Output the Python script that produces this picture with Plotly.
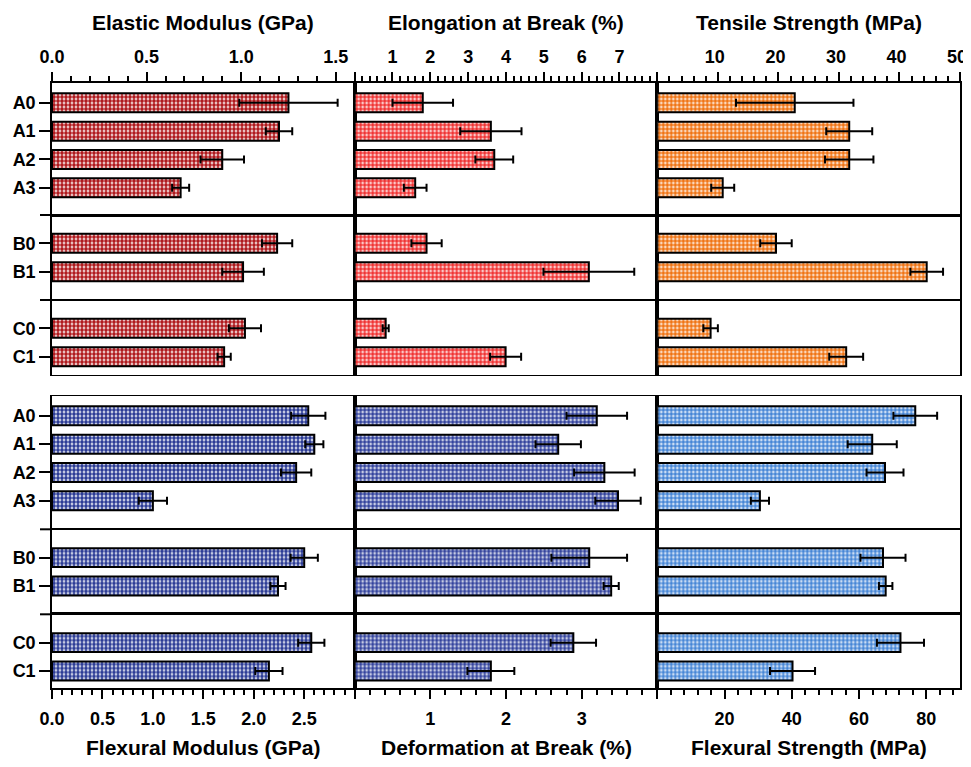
import plotly.graph_objects as go

# ---------------- data ----------------
categories = ["A0", "A1", "A2", "A3", "B0", "B1", "C0", "C1"]
group_sizes = [4, 2, 2]

elastic_modulus = [1.25, 1.20, 0.90, 0.68, 1.19, 1.01, 1.02, 0.91]
elastic_modulus_err = [0.26, 0.07, 0.115, 0.045, 0.08, 0.11, 0.085, 0.035]
elongation = [1.80, 3.60, 3.69, 1.60, 1.90, 6.19, 0.82, 3.99]
elongation_err = [0.80, 0.81, 0.50, 0.30, 0.40, 1.20, 0.08, 0.41]
tensile_strength = [22.7, 31.7, 31.7, 10.8, 19.6, 44.5, 8.8, 31.2]
tensile_strength_err = [9.7, 3.8, 4.0, 1.9, 2.6, 2.7, 1.2, 2.8]

flexural_modulus = [2.54, 2.60, 2.42, 1.00, 2.50, 2.24, 2.57, 2.15]
flexural_modulus_err = [0.17, 0.09, 0.15, 0.14, 0.135, 0.075, 0.13, 0.135]
deformation = [3.20, 2.69, 3.30, 3.48, 3.10, 3.39, 2.89, 1.80]
deformation_err = [0.40, 0.30, 0.40, 0.30, 0.50, 0.10, 0.30, 0.31]
flexural_strength = [76.7, 63.9, 67.7, 30.5, 67.1, 67.9, 72.3, 40.2]
flexural_strength_err = [6.5, 7.3, 5.5, 2.7, 6.7, 2.0, 7.0, 6.7]

top_titles = ["Elastic Modulus (GPa)", "Elongation at Break (%)", "Tensile Strength (MPa)"]
bottom_titles = ["Flexural Modulus (GPa)", "Deformation at Break (%)", "Flexural Strength (MPa)"]

top_tickvals = [[0, 0.5, 1.0, 1.5], [0, 1, 2, 3, 4, 5, 6, 7, 8], [0, 10, 20, 30, 40, 50]]
top_ticktext = [["0.0", "0.5", "1.0", "1.5"], ["", "1", "2", "3", "4", "5", "6", "7", ""],
                ["", "10", "20", "30", "40", "50"]]
bottom_tickvals = [[0, 0.5, 1.0, 1.5, 2.0, 2.5], [0, 1, 2, 3], [0, 20, 40, 60, 80]]
bottom_ticktext = [["0.0", "0.5", "1.0", "1.5", "2.0", "2.5"], ["", "1", "2", "3"],
                   ["", "20", "40", "60", "80"]]

# ---------------- styling ----------------
# the page body adds an 8 px margin; keep the figure small enough to avoid scrollbars
OFF = 8
REF_LEFT, REF_RIGHT, REF_TOP, REF_BOTTOM = 52, 960.5, 83, 688
W, H = 971 - OFF, 767 - 2 * OFF
ML = REF_LEFT - OFF
MR = W - (REF_RIGHT - OFF)
MT = REF_TOP - OFF
MB = H - (REF_BOTTOM - OFF)
PW = W - ML - MR
PH = H - MT - MB
UNIT_PX = 28.33  # pixels per category step

top_ranges = [[0, 1.6], [0, 8], [0, 50]]
bottom_ranges = [[0, 3], [0, 4], [0, 90]]
top_minor = [0.1, 0.2, 2]
bottom_minor = [0.1, 0.2, 4]
top_label_shift = [0, 0, -3]

top_colors = ["#b01a1e", "#f03434", "#f07414"]
bottom_colors = ["#2c3c96", "#34449e", "#4686d6"]

# section boundaries in reference pixels (top of frame, separators, bottom)
section_px = [[83, 215, 300, 374.5], [396, 529.3, 614.3, 688]]
first_offset = [0.7, 1.0, 1.0]

FONT = "Liberation Sans, Arial, Helvetica, sans-serif"
TICKFONT = dict(family=FONT, size=18, color="black", weight="bold")
TITLEFONT = dict(family=FONT, size=21, color="black", weight="bold")


def ypaper(px):
    return (REF_BOTTOM - px) / PH


sections = [
    dict(vals=[elastic_modulus, elongation, tensile_strength],
         errs=[elastic_modulus_err, elongation_err, tensile_strength_err],
         ranges=top_ranges, minor=top_minor, colors=top_colors,
         tickvals=top_tickvals, ticktext=top_ticktext),
    dict(vals=[flexural_modulus, deformation, flexural_strength],
         errs=[flexural_modulus_err, deformation_err, flexural_strength_err],
         ranges=bottom_ranges, minor=bottom_minor, colors=bottom_colors,
         tickvals=bottom_tickvals, ticktext=bottom_ticktext),
]

fig = go.Figure()
layout = {}
starts = [0, 4, 6]

for s, sec in enumerate(sections):
    px = section_px[s]
    for g in range(3):
        cats = categories[starts[g]:starts[g] + group_sizes[g]]
        y_top_px, y_bot_px = px[g], px[g + 1]
        height_units = (y_bot_px - y_top_px) / UNIT_PX
        yr = [-first_offset[g] + height_units, -first_offset[g]]
        for c in range(3):
            n = (s * 3 + g) * 3 + c + 1
            xname = "x" if n == 1 else f"x{n}"
            yname = "y" if n == 1 else f"y{n}"
            vals = sec["vals"][c][starts[g]:starts[g] + group_sizes[g]]
            errs = sec["errs"][c][starts[g]:starts[g] + group_sizes[g]]
            col = sec["colors"][c]
            fig.add_trace(go.Bar(
                x=vals, y=cats, orientation="h",
                xaxis=xname, yaxis=yname,
                marker=dict(color=col,
                            line=dict(color="black", width=2),
                            pattern=dict(shape=".", size=4, solidity=0.7,
                                         fgcolor=col, bgcolor="white",
                                         fillmode="replace")),
                error_x=dict(type="data", array=errs, color="black",
                             thickness=2, width=4),
                showlegend=False,
            ))
            is_top_row = (s == 0 and g == 0)
            is_bottom_row = (s == 1 and g == 2)
            xa = dict(domain=[c / 3, (c + 1) / 3], anchor=yname,
                      range=sec["ranges"][c], showgrid=False, zeroline=False,
                      showline=True, mirror=True, linecolor="black", linewidth=1.2,
                      fixedrange=True, automargin=False)
            if is_top_row or is_bottom_row:
                xa.update(side="top" if is_top_row else "bottom",
                          linewidth=2,
                          tickmode="array", tickvals=sec["tickvals"][c],
                          ticktext=sec["ticktext"][c],
                          ticks="outside", ticklen=9, tickwidth=2, tickcolor="black",
                          ticklabelstandoff=2 if is_top_row else 4,
                          ticklabelshift=top_label_shift[c] if is_top_row else 0,
                          ticklabeloverflow="allow",
                          tickfont=TICKFONT,
                          minor=dict(ticks="outside", tickmode="linear", tick0=0,
                                     dtick=sec["minor"][c], ticklen=5, tickwidth=1.5,
                                     tickcolor="black", showgrid=False))
            else:
                xa.update(showticklabels=False, ticks="")
            ya = dict(domain=[ypaper(y_bot_px), ypaper(y_top_px)], anchor=xname,
                      type="category", categoryorder="array", categoryarray=cats,
                      range=yr, showgrid=False, zeroline=False,
                      showline=True, mirror=True, linecolor="black", linewidth=1.5,
                      fixedrange=True, automargin=False)
            if c == 0:
                ya.update(ticks="outside", ticklen=11, tickwidth=2, tickcolor="black",
                          tickfont=TICKFONT)
            else:
                ya.update(showticklabels=False, ticks="")
            layout[xname.replace("x", "xaxis")] = xa
            layout[yname.replace("y", "yaxis")] = ya

# group separator stubs extending left of the frame
shapes = []
for s in range(2):
    for py in section_px[s][1:3]:
        shapes.append(dict(type="line", xref="paper", yref="paper",
                           x0=-12 / PW, x1=0, y0=ypaper(py), y1=ypaper(py),
                           line=dict(color="black", width=2)))

annotations = []
for c in range(3):
    annotations.append(dict(text=top_titles[c], xref="paper", yref="paper",
                            x=(c + 0.5) / 3, y=1, xanchor="center", yanchor="middle",
                            yshift=61, showarrow=False, font=TITLEFONT))
    annotations.append(dict(text=bottom_titles[c], xref="paper", yref="paper",
                            x=(c + 0.5) / 3, y=0, xanchor="center", yanchor="middle",
                            yshift=-59, showarrow=False, font=TITLEFONT))

fig.update_layout(
    width=W, height=H,
    margin=dict(l=ML, r=MR, t=MT, b=MB, autoexpand=False),
    paper_bgcolor="white", plot_bgcolor="white",
    bargap=0.33,
    shapes=shapes, annotations=annotations,
    **layout,
)

fig.write_html("out.html")
